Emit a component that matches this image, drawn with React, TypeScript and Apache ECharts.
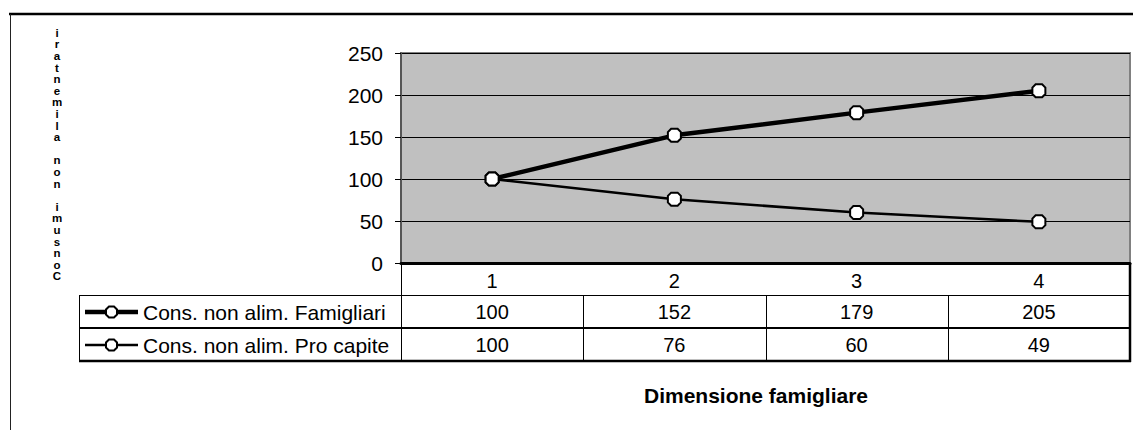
import React, { useEffect, useRef } from "react";
import * as echarts from "echarts";

const categories = ["1", "2", "3", "4"];
const famigliari = [100, 152, 179, 205];
const proCapite = [100, 76, 60, 49];
const seriesNames = ["Cons. non alim. Famigliari", "Cons. non alim. Pro capite"];
const yTitle = "Consumi non alimentari";
const xTitle = "Dimensione famigliare";
const yMin = 0;
const yMax = 250;
const yInterval = 50;

const FONT = "'Liberation Sans', Arial, sans-serif";
const MARKER = "path://M3,0 L9,0 L12,3 L12,9 L9,12 L3,12 L0,9 L0,3 Z";

export default function App() {
  const ref = useRef<HTMLDivElement>(null);
  useEffect(() => {
    if (!ref.current) return;
    const chart = echarts.init(ref.current, undefined, { renderer: "svg" });

    const gLeft = 401;
    const gTop = 53;
    const gRight = 1130;
    const gBottom = 263;
    const gW = gRight - gLeft;
    const band = gW / categories.length;
    const rowTop1 = 295;
    const rowTop2 = 328;
    const rowBot = 361;
    const legLeft = 79;

    const graphic: any[] = [];
    const line = (x1: number, y1: number, x2: number, y2: number, w: number, c = "#000") =>
      graphic.push({ type: "line", silent: true, shape: { x1, y1, x2, y2 }, style: { stroke: c, lineWidth: w } });

    // outer chart frame
    line(9, 14, 1133, 14, 2.5);
    line(10.5, 14, 10.5, 430, 1, "#222");

    // table lines
    line(legLeft, rowTop1 + 0.5, gRight, rowTop1 + 0.5, 1);
    line(legLeft, rowTop2, gRight, rowTop2, 2);
    line(legLeft, rowBot, gRight + 1, rowBot, 2.5);
    line(legLeft + 0.5, rowTop1, legLeft + 0.5, rowBot, 1);
    for (let i = 0; i <= categories.length; i++) {
      const x = Math.round(gLeft + i * band) + 0.5;
      if (i === categories.length) line(gRight, gBottom, gRight, rowBot + 1, 2.5);
      else line(x, i === 0 ? gBottom : rowTop1, x, rowBot, 1);
    }

    // legend keys + texts + values
    const rows = [
      { name: seriesNames[0], data: famigliari, w: 4.5, y: (rowTop1 + rowTop2) / 2 + 0.5 },
      { name: seriesNames[1], data: proCapite, w: 2.5, y: (rowTop2 + rowBot) / 2 + 0.5 },
    ];
    rows.forEach((r) => {
      line(85, r.y, 138, r.y, r.w);
      const cx = 111.5;
      const cy = r.y;
      const s = 5.5;
      const k = 2.5;
      graphic.push({
        type: "polygon",
        silent: true,
        shape: {
          points: [
            [cx - k, cy - s], [cx + k, cy - s], [cx + s, cy - k], [cx + s, cy + k],
            [cx + k, cy + s], [cx - k, cy + s], [cx - s, cy + k], [cx - s, cy - k],
          ],
        },
        style: { fill: "#fff", stroke: "#000", lineWidth: 2 },
      });
      graphic.push({
        type: "text",
        silent: true,
        x: 143,
        y: r.y,
        style: { text: r.name, font: `21px ${FONT}`, fill: "#000", verticalAlign: "middle", align: "left" },
      });
      r.data.forEach((v, i) => {
        graphic.push({
          type: "text",
          silent: true,
          x: gLeft + (i + 0.5) * band,
          y: r.y,
          style: { text: String(v), font: `20px ${FONT}`, fill: "#000", verticalAlign: "middle", align: "center" },
        });
      });
    });

    // y title: stacked characters reading bottom-to-top, drawn as one text block
    const stacked = yTitle.split("").reverse().join("\n");
    graphic.push({
      type: "text",
      silent: true,
      x: 57,
      y: 27,
      style: {
        text: stacked,
        font: `bold 11.5px ${FONT}`,
        lineHeight: 11.6,
        fill: "#000",
        align: "center",
        verticalAlign: "top",
      },
    });

    // x title
    graphic.push({
      type: "text",
      silent: true,
      x: 756,
      y: 395,
      style: { text: xTitle, font: `bold 21px ${FONT}`, fill: "#000", align: "center", verticalAlign: "middle" },
    });

    chart.setOption({
      animation: false,
      backgroundColor: "#fff",
      grid: {
        left: gLeft,
        top: gTop,
        width: gW,
        height: gBottom - gTop,
        show: true,
        backgroundColor: "#c0c0c0",
        borderColor: "#808080",
        borderWidth: 2,
      },
      xAxis: {
        type: "category",
        data: categories,
        boundaryGap: true,
        axisLine: { show: true, lineStyle: { color: "#000", width: 3 } },
        axisTick: { show: false },
        axisLabel: { margin: 8, color: "#000", fontSize: 20, fontFamily: FONT },
        splitLine: { show: false },
      },
      yAxis: {
        type: "value",
        min: yMin,
        max: yMax,
        interval: yInterval,
        axisLine: { show: true, lineStyle: { color: "#555", width: 2 } },
        axisTick: { show: true, length: 6, lineStyle: { color: "#000", width: 1 } },
        axisLabel: { margin: 18, color: "#000", fontSize: 21, fontFamily: FONT },
        splitLine: { show: true, lineStyle: { color: "#000", width: 1 } },
      },
      series: [
        {
          name: seriesNames[0],
          type: "line",
          data: famigliari,
          symbol: MARKER,
          symbolSize: 13,
          lineStyle: { color: "#000", width: 4.5 },
          itemStyle: { color: "#fff", borderColor: "#000", borderWidth: 2 },
          z: 3,
        },
        {
          name: seriesNames[1],
          type: "line",
          data: proCapite,
          symbol: MARKER,
          symbolSize: 13,
          lineStyle: { color: "#000", width: 2.5 },
          itemStyle: { color: "#fff", borderColor: "#000", borderWidth: 2 },
          z: 3,
        },
      ],
      graphic,
    });
    return () => chart.dispose();
  }, []);
  return (
    <div
      ref={ref}
      style={{ position: "fixed", left: 0, top: 0, width: 1133, height: 430, background: "#fff" }}
    />
  );
}
